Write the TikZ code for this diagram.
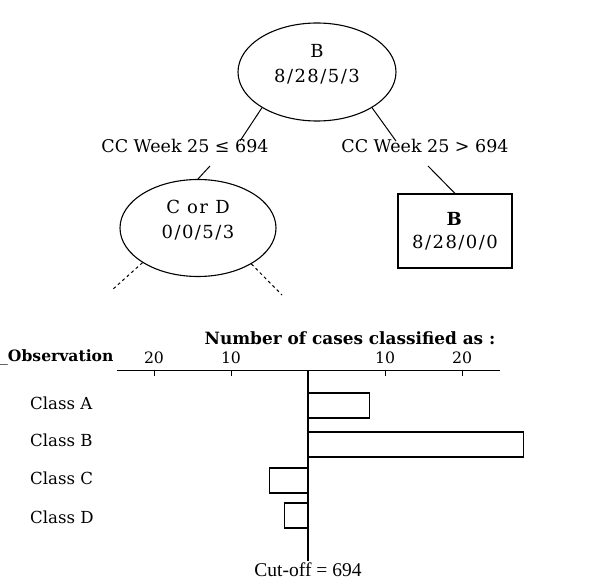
\documentclass[tikz,border=0pt]{standalone}
\usepackage{fontspec}
\setmainfont{DejaVu Serif}
\newfontfamily\tms{Liberation Serif}
\usetikzlibrary{positioning,shapes.geometric,calc}

\begin{document}
\begin{tikzpicture}[x=1pt,y=-1pt,
  split/.style={draw,ellipse,line width=1.1pt,minimum width=158pt,minimum height=98pt,align=center,inner sep=0pt,text depth=18pt,font=\fontsize{18}{25}\selectfont\addfontfeatures{LetterSpace=8}},
  leaf/.style={draw,rectangle,line width=1.1pt,minimum width=114pt,minimum height=74pt,align=center,font=\fontsize{18}{23}\selectfont\addfontfeatures{LetterSpace=8}},
  rule/.style={inner sep=1pt,font=\fontsize{17.5}{21}\selectfont},
  cls/.style={anchor=west,inner sep=0pt,font=\fontsize{16.6}{20}\selectfont},
  bar/.style={draw,line width=1.1pt}]
  \useasboundingbox (0,0) rectangle (592,583);
  % tree part
  \node[split] (root) at (317,72) {B\\8/28/5/3};
  \node[rule] (leL) at (185,146) {CC Week 25 ≤ 694};
  \node[rule] (leR) at (425,146) {CC Week 25 > 694};
  \node[split,minimum width=156pt,minimum height=97pt] (cd) at (198,228) {C or D\\0/0/5/3};
  \node[leaf] (leafB) at (455,231) {\textbf{B}\\8/28/0/0};
  \draw[line width=1pt] (root.213) -- ([xshift=55pt,yshift=-3pt]leL.north);
  \draw[line width=1pt] (root.327) -- ([xshift=-29pt,yshift=-3pt]leR.north);
  \draw[line width=1pt] ([xshift=25pt,yshift=-12pt]leL.south) -- (cd.north);
  \draw[line width=1pt] ([xshift=3pt,yshift=-12pt]leR.south) -- (leafB.north);
  \coordinate (dL) at (112,290);
  \coordinate (dR) at (282,295);
  \draw[line width=1pt,dashed] (cd.212) -- (dL);
  \draw[line width=1pt,dashed] (cd.326) -- (dR);
  % chart part
  \node[font=\bfseries\fontsize{16.9}{20}\selectfont] (title) at (350,338) {Number of cases classified as :};
  \node[anchor=west,inner sep=0pt,font=\fontsize{15.6}{19}\selectfont] (obs) at (0,357) {\_\textbf{Observation}};
  \draw[line width=1pt] (117,370) -- (500,370);
  \foreach \t/\lab in {-20/20,-10/10,10/10,20/20} {
    \draw[line width=1pt] ({308+7.7*\t},370) -- ++(0,6);
    \node[font=\fontsize{15.7}{19}\selectfont,inner sep=0pt] (tk\t) at ({308+7.7*\t},358) {\lab};
  }
  \node[cls] (clsA) at (30,403) {Class A};
  \node[cls] (clsB) at (30,440) {Class B};
  \node[cls] (clsC) at (30,478) {Class C};
  \node[cls] (clsD) at (30,517) {Class D};
  \foreach \v/\y in {8/393,28/432,-5/468,-3/503}
    \draw[bar] (308,\y) rectangle ({308+7.7*\v},{\y+25});
  \node[inner sep=2pt,font=\tms\fontsize{19.5}{23}\selectfont] (cut) at (308,570) {Cut-off = 694};
  \draw[line width=1.3pt] (308,370) -- (cut.north);
\end{tikzpicture}
\end{document}
